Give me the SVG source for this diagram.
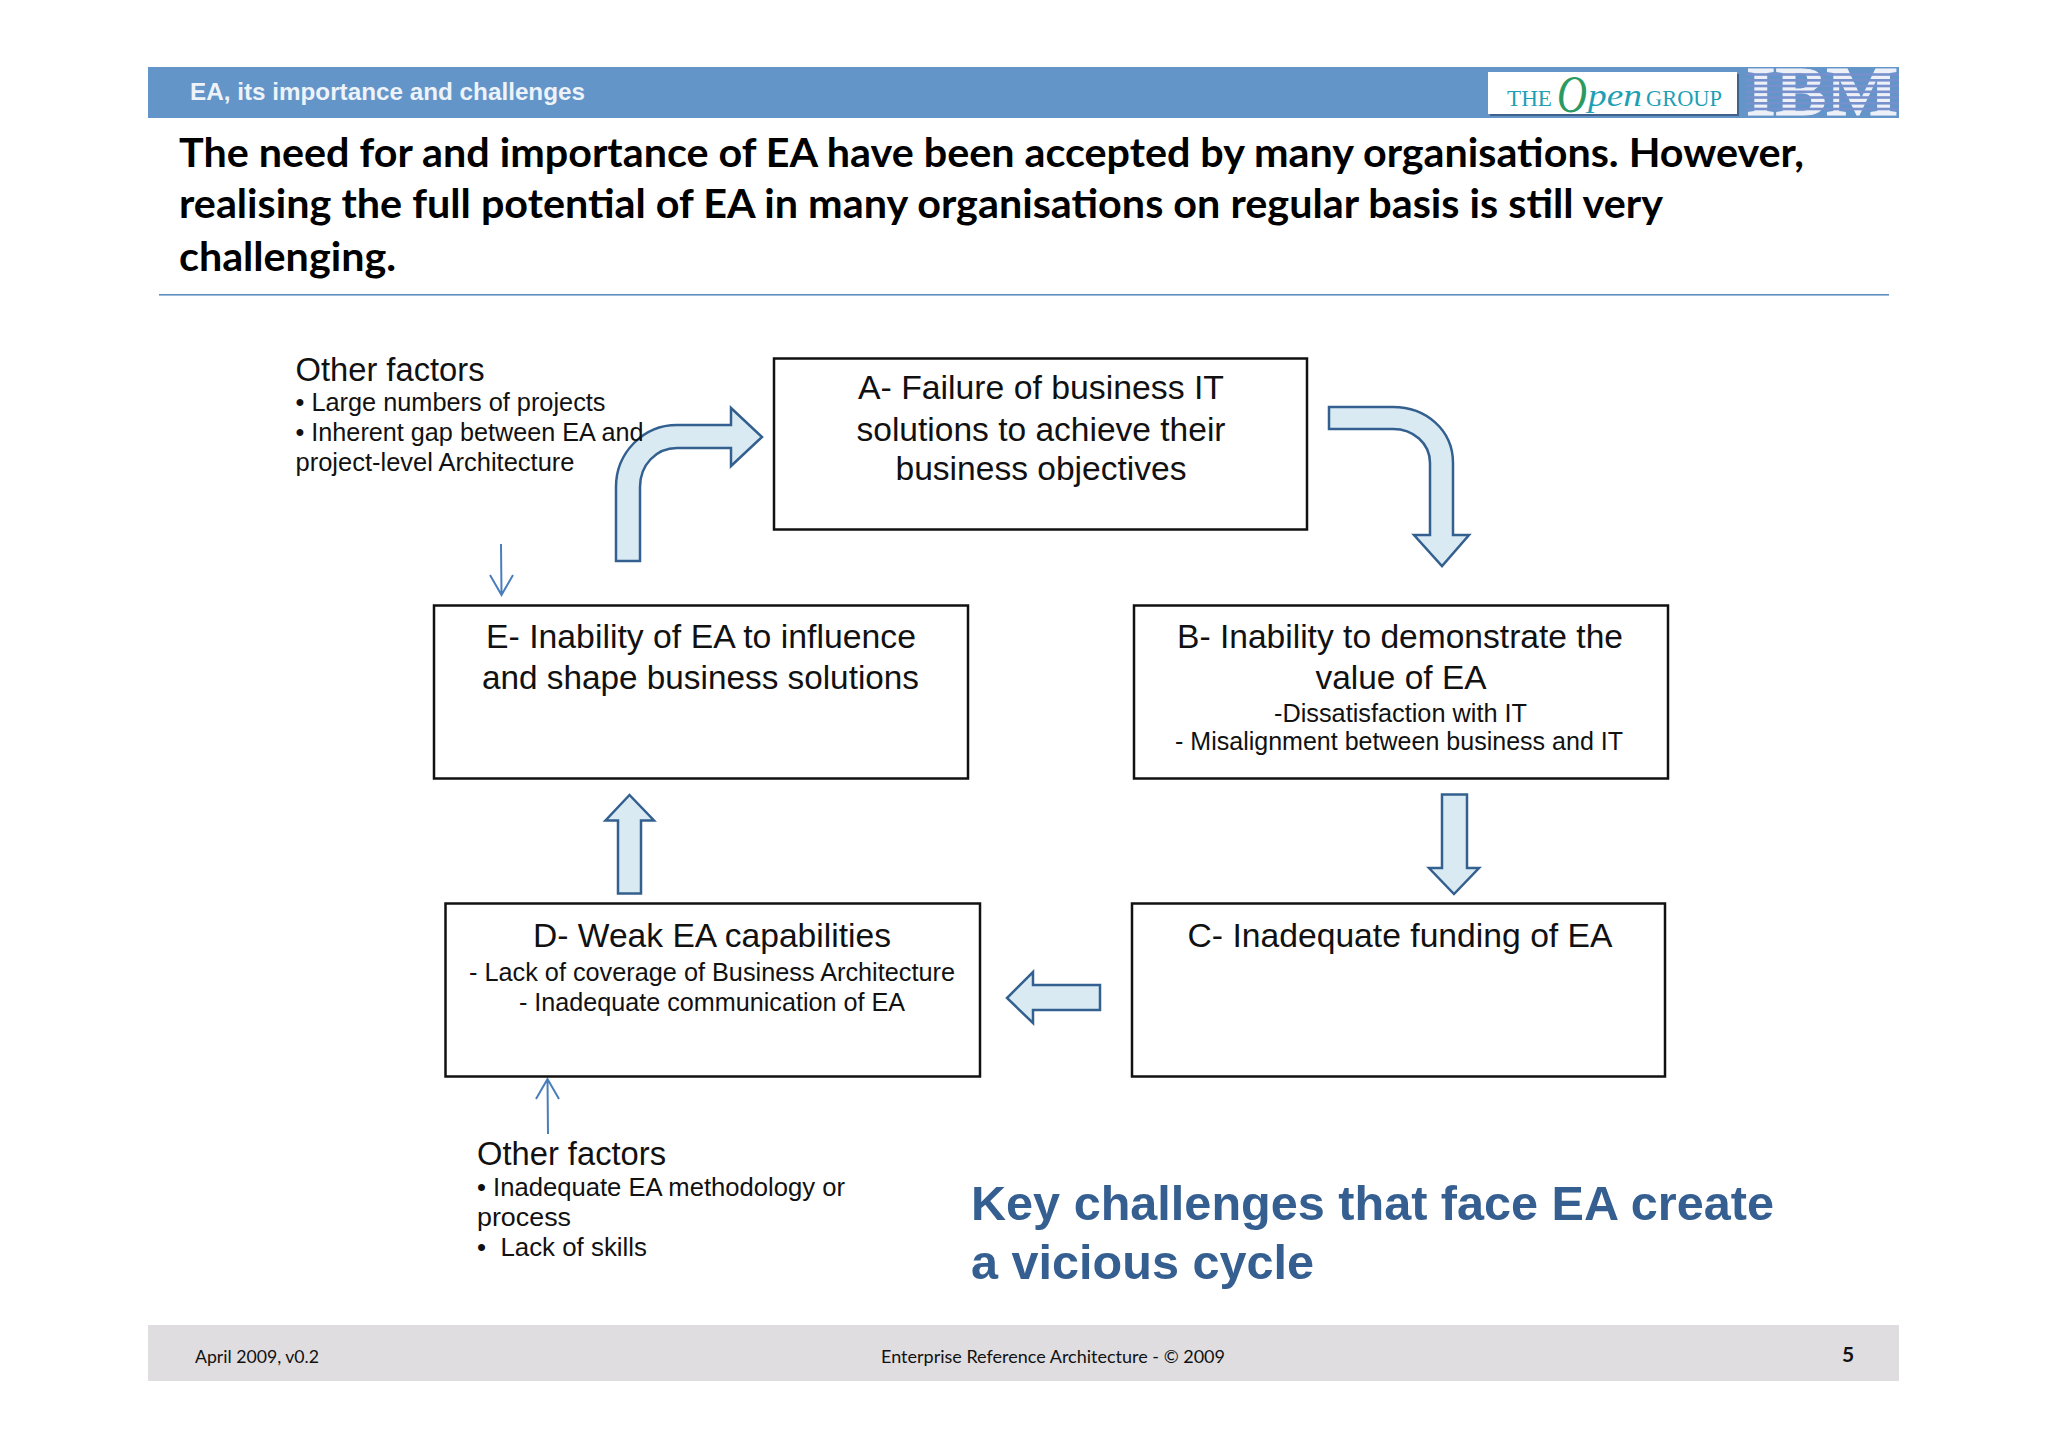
<svg xmlns="http://www.w3.org/2000/svg" width="2048" height="1447" viewBox="0 0 2048 1447">
<style>
.box{fill:#fff;stroke:#111;stroke-width:2.5}
.blk{fill:#daeaf3;stroke:#33608f;stroke-width:2.5;stroke-linejoin:miter}
.thin{fill:none;stroke:#4a7ebb;stroke-width:2}
text{font-family:"Liberation Sans",Arial,sans-serif;fill:#111}
.big{font-size:34px;text-anchor:middle}
.mid{font-size:25px;text-anchor:middle}
.of{font-size:34px}
.li{font-size:25px}
.ti{font-family:Lato,"Open Sans",sans-serif;font-weight:700;font-size:40px;fill:#000}
.ft{font-family:Lato,"Open Sans",sans-serif;font-size:18px}
.key{font-size:49px;font-weight:700;fill:#365f91}
.ser{font-family:"Liberation Serif",serif;fill:#1f9fb5}
</style>
<rect width="2048" height="1447" fill="#fff"/>
<g id="header">
<rect x="148" y="67" width="1751" height="51" fill="#6395c9"/>
<text x="190" y="99.500" font-size="24" font-weight="700" textLength="395" lengthAdjust="spacingAndGlyphs" style="fill:#eef3f9">EA, its importance and challenges</text>
<rect x="1490" y="74" width="249" height="42" fill="#3f618c"/>
<rect x="1488" y="72" width="249" height="42" fill="#fff"/>
<text class="ser" x="1507" y="106" font-size="23" textLength="45" lengthAdjust="spacingAndGlyphs">THE</text>
<text class="ser" x="1557" y="112" font-size="52" font-style="italic" textLength="30" lengthAdjust="spacingAndGlyphs" style="fill:#2a9a62">O</text>
<text class="ser" x="1588" y="106" font-size="31" font-style="italic" textLength="54" lengthAdjust="spacingAndGlyphs">pen</text>
<text class="ser" x="1646" y="106" font-size="23" textLength="76" lengthAdjust="spacingAndGlyphs">GROUP</text>
<text x="1746" y="115" font-size="69" font-weight="700" textLength="152" lengthAdjust="spacingAndGlyphs" style="font-family:'Liberation Serif',serif;fill:#eef0f8;stroke:#eef0f8;stroke-width:1">IBM</text>
<g fill="#7590cc"><rect x="1746" y="73.200" width="153" height="2.600"/><rect x="1746" y="79" width="153" height="2.600"/><rect x="1746" y="84.700" width="153" height="2.600"/><rect x="1746" y="90.500" width="153" height="2.600"/><rect x="1746" y="96.200" width="153" height="2.600"/><rect x="1746" y="102" width="153" height="2.600"/><rect x="1746" y="107.700" width="153" height="2.600"/></g>
</g>
<g id="title">
<text class="ti" x="179" y="166.500" textLength="1625" lengthAdjust="spacingAndGlyphs">The need for and importance of EA have been accepted by many organisations. However,</text>
<text class="ti" x="179" y="217.500" textLength="1484" lengthAdjust="spacingAndGlyphs">realising the full potential of EA in many organisations on regular basis is still very</text>
<text class="ti" x="179" y="270.500" textLength="217" lengthAdjust="spacingAndGlyphs">challenging.</text>
<rect x="159" y="294" width="1730" height="1.6" fill="#5f8fc0"/>
</g>
<g id="connectors">
<path class="blk" d="M616 561V487C616 453 643 425 677 425H731V408L762 437L731 466V448H677C656 448 640 465 640 487V561Z"/>
<path class="blk" d="M1329 407H1393C1426 407 1453 430 1453 463V535H1469L1442 566L1414 535H1430V463C1430 443 1413 429 1393 429H1329Z"/>
<path class="blk" d="M1442 794.500H1467V868H1479L1454 894L1429 868H1442Z"/>
<path class="blk" d="M618 893.500V820.500H605.500L629.500 795L654 820.500H641V893.500Z"/>
<path class="blk" d="M1100 985H1033V972L1007 998L1033 1023V1010H1100Z"/>
<path class="thin" d="M501 544L501.500 595M490 575L501.500 595L513 575"/>
<path class="thin" d="M548 1134L547.500 1079M536 1099L547.500 1079L559 1099"/>
</g>
<g id="node-a"><rect class="box" x="774" y="358.500" width="533" height="171"/>
<text class="big" x="1041" y="399" textLength="366" lengthAdjust="spacingAndGlyphs">A- Failure of business  IT</text>
<text class="big" x="1041" y="441" textLength="369" lengthAdjust="spacingAndGlyphs">solutions to achieve their</text>
<text class="big" x="1041" y="480" textLength="291" lengthAdjust="spacingAndGlyphs">business objectives</text></g>
<g id="node-b"><rect class="box" x="1134" y="605.500" width="534" height="173"/>
<text class="big" x="1400" y="647.500" textLength="446" lengthAdjust="spacingAndGlyphs">B- Inability to demonstrate the</text>
<text class="big" x="1401" y="689" textLength="171" lengthAdjust="spacingAndGlyphs">value of EA</text>
<text class="mid" x="1400.500" y="722" textLength="253" lengthAdjust="spacingAndGlyphs">-Dissatisfaction with IT</text>
<text class="mid" x="1399" y="750" textLength="448" lengthAdjust="spacingAndGlyphs">- Misalignment between business and IT</text></g>
<g id="node-c"><rect class="box" x="1132" y="903.500" width="533" height="173"/>
<text class="big" x="1400" y="947" textLength="425" lengthAdjust="spacingAndGlyphs">C- Inadequate funding of EA</text></g>
<g id="node-d"><rect class="box" x="445.500" y="903.500" width="534.500" height="173"/>
<text class="big" x="712" y="947" textLength="358" lengthAdjust="spacingAndGlyphs">D- Weak EA capabilities</text>
<text class="mid" x="712" y="980.500" textLength="486" lengthAdjust="spacingAndGlyphs">- Lack of coverage of Business Architecture</text>
<text class="mid" x="712" y="1010.500" textLength="386" lengthAdjust="spacingAndGlyphs">- Inadequate communication of EA</text></g>
<g id="node-e"><rect class="box" x="434" y="605.500" width="534" height="173"/>
<text class="big" x="701" y="647.500" textLength="430" lengthAdjust="spacingAndGlyphs">E- Inability of EA to influence</text>
<text class="big" x="700.500" y="689" textLength="437" lengthAdjust="spacingAndGlyphs">and shape business  solutions</text></g>
<g id="factors-top">
<text class="of" x="295.500" y="381" textLength="189" lengthAdjust="spacingAndGlyphs">Other factors</text>
<text class="li" x="295.500" y="411" textLength="310" lengthAdjust="spacingAndGlyphs">• Large numbers of projects</text>
<text class="li" x="295.500" y="441" textLength="348" lengthAdjust="spacingAndGlyphs">• Inherent gap between EA and</text>
<text class="li" x="295.500" y="471" textLength="279" lengthAdjust="spacingAndGlyphs">project-level Architecture</text></g>
<g id="factors-bottom">
<text class="of" x="477" y="1165" textLength="189" lengthAdjust="spacingAndGlyphs">Other factors</text>
<text class="li" x="477" y="1195.500" textLength="368" lengthAdjust="spacingAndGlyphs">• Inadequate EA methodology or</text>
<text class="li" x="477" y="1225.500" textLength="94" lengthAdjust="spacingAndGlyphs">process</text>
<text class="li" x="477" y="1255.500" textLength="170" lengthAdjust="spacingAndGlyphs" xml:space="preserve">•  Lack of skills</text></g>
<g id="key"><text class="key" x="971" y="1220" textLength="803" lengthAdjust="spacingAndGlyphs">Key challenges that face EA create</text>
<text class="key" x="971" y="1279" textLength="343" lengthAdjust="spacingAndGlyphs">a vicious cycle</text></g>
<g id="footer"><rect x="148" y="1325" width="1751" height="56" fill="#dfdde0"/>
<text class="ft" x="195" y="1363" textLength="124" lengthAdjust="spacingAndGlyphs">April 2009, v0.2</text>
<text class="ft" x="881" y="1363" textLength="344" lengthAdjust="spacingAndGlyphs">Enterprise Reference Architecture - © 2009</text>
<text class="ft" x="1842" y="1362" font-weight="700" style="font-size:21px">5</text></g>
</svg>
